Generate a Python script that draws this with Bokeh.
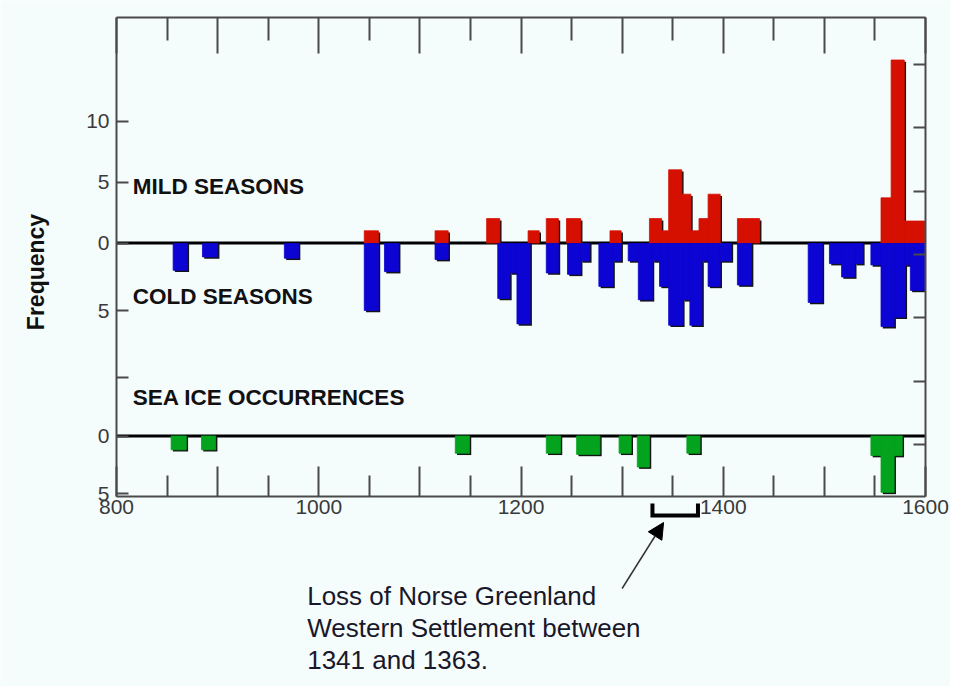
import math
from bokeh.plotting import figure
from bokeh.models import Range1d, LinearAxis, FixedTicker, Label, Arrow, NormalHead
from bokeh.embed import file_html
from bokeh.resources import INLINE

# ---------------- data (years, frequency) ----------------
mild_left  = [1045, 1115, 1166, 1207, 1225, 1245, 1288, 1327, 1339, 1346, 1359, 1368, 1376, 1385, 1414, 1556, 1566, 1579]
mild_right = [1059, 1128, 1179, 1218, 1237, 1259, 1299, 1339, 1346, 1359, 1368, 1376, 1385, 1397, 1436, 1566, 1579, 1600]
mild_freq  = [1, 1, 2, 1, 2, 2, 1, 2, 1, 6, 4, 1, 2, 4, 2, 3.7, 15, 1.8]

cold_left  = [856, 885, 966, 1045, 1065, 1115, 1177, 1189, 1196, 1225, 1246, 1259, 1277, 1291, 1306, 1316, 1330,
              1337, 1346, 1360, 1367, 1379, 1385, 1397, 1414, 1484, 1505, 1517, 1530, 1546, 1556, 1569, 1580, 1585]
cold_right = [870, 900, 980, 1059, 1079, 1128, 1189, 1196, 1209, 1237, 1259, 1268, 1291, 1299, 1316, 1330, 1337,
              1346, 1360, 1367, 1379, 1385, 1397, 1408, 1428, 1498, 1517, 1530, 1538, 1556, 1569, 1580, 1585, 1600]
cold_freq  = [2.0, 1.0, 1.1, 5.0, 2.1, 1.2, 4.1, 2.2, 6.0, 2.2, 2.3, 1.3, 3.2, 1.3, 1.3, 4.2, 1.3,
              3.2, 6.1, 4.2, 6.1, 1.3, 3.2, 1.3, 3.1, 4.4, 1.5, 2.5, 1.5, 1.6, 6.2, 5.5, 1.6, 3.5]

ice_left  = [854, 884, 1135, 1225, 1255, 1297, 1315, 1364, 1546, 1556, 1569]
ice_right = [869, 898, 1149, 1239, 1278, 1309, 1327, 1377, 1556, 1569, 1577]
ice_freq  = [1.2, 1.2, 1.5, 1.5, 1.6, 1.5, 2.7, 1.5, 1.7, 4.9, 1.7]

x_major = [800, 900, 1000, 1100, 1200, 1300, 1400, 1500, 1600]
x_minor = [850, 950, 1050, 1150, 1250, 1350, 1450, 1550]
x_labels = [800, 1000, 1200, 1400, 1600]

mild_ticks = [0, 5, 10]
cold_ticks = [5, 10]
cold_tick_labels = ["5", ""]
ice_ticks = [0, 5]
right_ticks = [-15, -10, -5, 0, 5, 10, 15]

loss_start, loss_end = 1330, 1375
arrow_from_year, arrow_to_year = 1300, 1341
note_lines = ["Loss of Norse Greenland", "Western Settlement between", "1341 and 1363."]

# ---------------- layout / styling ----------------
RED, BLUE, GREEN = "#d61000", "#0c04d2", "#03a31d"
SHADOW = "#141414"
BG = "#f5fcfc"
AX = "#4a4a4a"
FONT = "Liberation Sans"

W, H = 950, 686                      # canvas
BOX_L, BOX_R, BOX_T, BOX_B = 116, 925, 17, 496   # chart box on the canvas
X0, X1 = 800, 1600
PPX = (BOX_R - BOX_L) / (X1 - X0)    # px per year
SH = 1.8                             # drop-shadow offset, px


def panel_range(base_px, px_per_unit, downward=False):
    """Vertical range over the whole canvas whose 0 sits at canvas row base_px."""
    above = base_px / px_per_unit
    below = (H - base_px) / px_per_unit
    if downward:
        return Range1d(start=below, end=-above)
    return Range1d(start=-below, end=above)


def unit_at(px, base_px, px_per_unit, downward=False):
    v = (base_px - px) / px_per_unit
    return -v if downward else v


MILD = (242.5, 12.2, False)
COLD = (243.0, 13.4, True)
ICE = (435.5, 11.5, True)
RT = (254.0, 12.66, False)

mild_rng = panel_range(*MILD)
x_rng = Range1d(X0 - BOX_L / PPX, X1 + (W - BOX_R) / PPX)

p = figure(width=W, height=H, x_range=x_rng, y_range=mild_rng,
           output_backend="svg", toolbar_location=None,
           x_axis_location=None, y_axis_location=None,
           min_border_left=0, min_border_right=0, min_border_top=0, min_border_bottom=0,
           background_fill_color=BG, border_fill_color=BG)
p.extra_y_ranges = {"cold": panel_range(*COLD), "ice": panel_range(*ICE),
                    "rt": panel_range(*RT), "px": Range1d(start=H, end=0)}
p.xgrid.visible = False
p.ygrid.visible = False
p.outline_line_color = None

box_top = unit_at(BOX_T, *MILD)
box_bot = unit_at(BOX_B, *MILD)


def style_axis(ax, major_in, minor_in=0):
    ax.axis_line_color = AX
    ax.axis_line_width = 2
    ax.major_tick_line_color = AX
    ax.major_tick_line_width = 2
    ax.minor_tick_line_color = AX
    ax.minor_tick_line_width = 2
    ax.major_tick_in = major_in
    ax.major_tick_out = 0
    ax.minor_tick_in = minor_in
    ax.minor_tick_out = 0
    ax.major_label_text_font = FONT
    ax.major_label_text_font_size = "21px"
    ax.major_label_text_color = "#3a3a3a"


# bottom / top axes
bottom = LinearAxis(ticker=FixedTicker(ticks=x_major, minor_ticks=x_minor),
                    fixed_location=box_bot, bounds=(X0, X1),
                    major_label_overrides={t: (str(t) if t in x_labels else "") for t in x_major})
style_axis(bottom, 30, 21)
bottom.major_label_standoff = 3
p.add_layout(bottom, "below")

top = LinearAxis(ticker=FixedTicker(ticks=x_major, minor_ticks=x_minor),
                 fixed_location=box_top, bounds=(X0, X1),
                 major_label_overrides={t: "" for t in x_major})
style_axis(top, 36, 23)
p.add_layout(top, "above")


# left axis: three panels sharing one axis line
def to_main(v, panel):
    px = panel[0] - (v if not panel[2] else -v) * panel[1]
    return round(unit_at(px, *MILD), 4)


left_pos, left_lab = [], {}
for v in mild_ticks:
    left_pos.append(v); left_lab[v] = str(v)
for v, lab in zip(cold_ticks, cold_tick_labels):
    t = to_main(v, COLD); left_pos.append(t); left_lab[t] = lab
for v in ice_ticks:
    t = to_main(v, ICE); left_pos.append(t); left_lab[t] = str(v)
left = LinearAxis(ticker=FixedTicker(ticks=left_pos), major_label_overrides=left_lab,
                  fixed_location=X0, bounds=(box_bot, box_top))
style_axis(left, 12)
left.major_label_standoff = 7
p.add_layout(left, "left")

right = LinearAxis(y_range_name="rt", ticker=FixedTicker(ticks=right_ticks),
                   fixed_location=X1,
                   bounds=(unit_at(BOX_B, *RT), unit_at(BOX_T, *RT)),
                   major_label_overrides={t: "" for t in right_ticks})
style_axis(right, 12)
p.add_layout(right, "right")

# baselines
p.segment(x0=[X0], x1=[X1], y0=[0], y1=[0], line_color="black", line_width=3)
p.segment(x0=[X0], x1=[X1], y0=[0], y1=[0], y_range_name="ice", line_color="black", line_width=3)


# bars, each with a thin dark drop shadow (right / lower edge) as in the printed figure
def bars(lefts, rights, vals, panel, color, rng_name=None):
    dx = SH / PPX
    dv = SH / panel[1] * (1 if panel[2] else -1)
    kw = {} if rng_name is None else {"y_range_name": rng_name}
    p.quad(left=[l + dx for l in lefts], right=[min(r + dx, X1) for r in rights], bottom=0,
           top=[v + dv for v in vals], fill_color=SHADOW, line_color=None, **kw)
    p.quad(left=lefts, right=rights, bottom=0, top=vals,
           fill_color=color, line_color=color, line_width=0.8, **kw)


bars(mild_left, mild_right, mild_freq, MILD, RED)
bars(cold_left, cold_right, cold_freq, COLD, BLUE, "cold")
bars(ice_left, ice_right, ice_freq, ICE, GREEN, "ice")

# panel titles (positions in canvas rows via the "px" range)
for txt, y in [("MILD SEASONS", 185.5), ("COLD SEASONS", 296.0), ("SEA ICE OCCURRENCES", 396.5)]:
    p.add_layout(Label(x=816, y=y, y_range_name="px", text=txt, text_baseline="middle",
                       text_font=FONT, text_font_size="22.5px", text_font_style="bold",
                       text_color="#111111"))

p.add_layout(Label(x=X0 - (BOX_L - 35) / PPX, y=271.5, y_range_name="px", text="Frequency",
                   angle=math.pi / 2, text_align="center", text_baseline="middle", text_font=FONT,
                   text_font_size="23px", text_font_style="bold", text_color="#111111"))

# settlement-loss bracket and pointer
p.line(x=[loss_start, loss_start, loss_end, loss_end], y=[503, 515, 515, 503], y_range_name="px",
       line_color="black", line_width=4, line_join="miter")
p.add_layout(Arrow(x_start=arrow_from_year, y_start=588, x_end=arrow_to_year, y_end=522,
                   y_range_name="px", line_color="#333333", line_width=1.5,
                   end=NormalHead(size=16, fill_color="black", line_color="black")))

for i, line in enumerate(note_lines):
    p.add_layout(Label(x=X0 + (306.7 - BOX_L) / PPX, y=595 + 32 * i, y_range_name="px", text=line,
                       text_baseline="alphabetic", text_font=FONT, text_font_size="26px",
                       text_color="#18182a"))

open("out.html", "w").write(file_html(p, INLINE))
